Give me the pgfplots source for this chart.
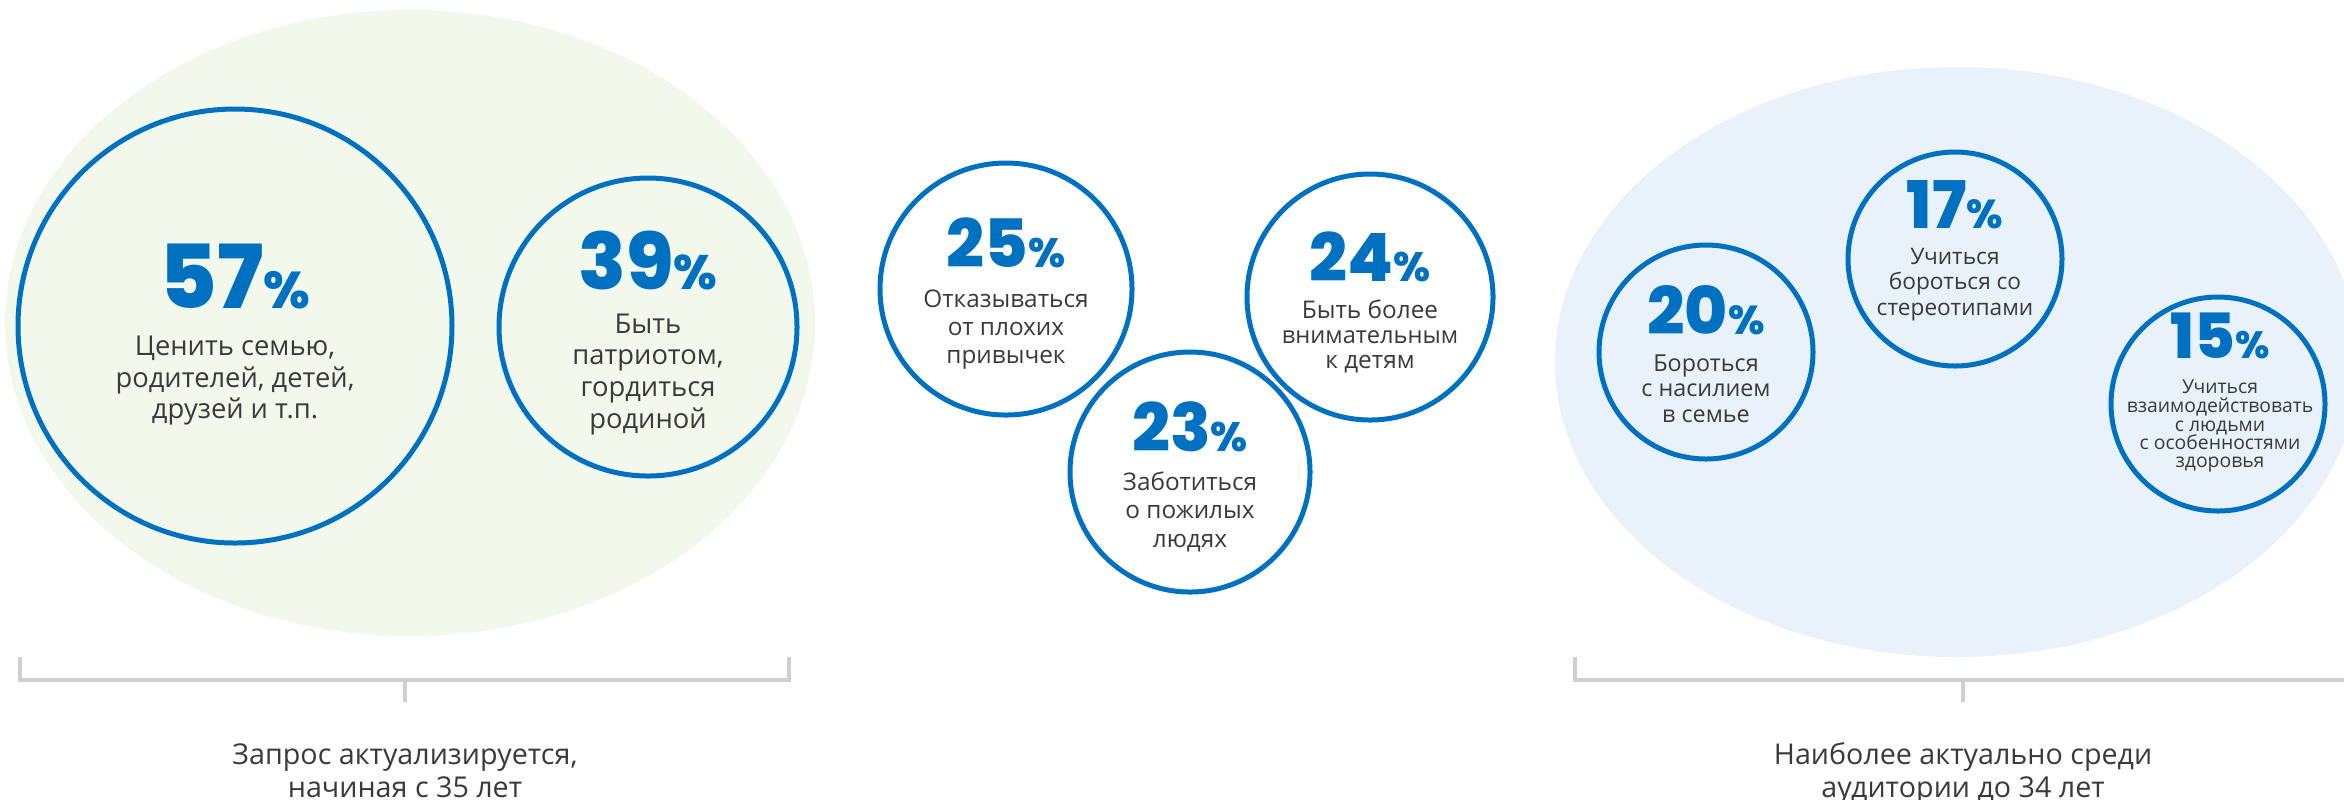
\documentclass[border=0pt]{standalone}
\usepackage{pgfplots}
\pgfplotsset{compat=1.18}
\usepackage{pgfplotstable}
\usepackage{fontspec}
\setmainfont{Open Sans}
\newfontfamily\numfont{Poppins}[BoldFont=*-ExtraBold]
\definecolor{cblue}{HTML}{0070C0}
\definecolor{cgreen}{HTML}{F3F8EC}
\definecolor{clblue}{HTML}{E9F1FA}
\definecolor{cgray}{HTML}{CFCFCF}
\definecolor{ctext}{HTML}{3A3A3A}
\pgfdeclareplotmark{bgell}{\pgfpathellipse{\pgfpointorigin}{\pgfpoint{\ellrx pt}{0pt}}{\pgfpoint{0pt}{\ellry pt}}\pgfusepathqfill}
\pgfdeclareplotmark{ring}{\pgfpathcircle{\pgfpointorigin}{\ringr pt}\pgfusepathqstroke}
\pgfplotstableread{
cx cy rx ry
410 323 405 313
}\greenell
\pgfplotstableread{
cx cy rx ry
1957 362 402 295
}\blueell
\pgfplotstableread{
cx cy r value
235 326 217 57
648 327 149 39
1006 289 126 25
1370 297 123 24
1190 472 120 23
1706 352 107 20
1955 259 107 17
2218 404 107 15
}\circles
\newcommand{\pnum}[5]{\node[anchor=base,text=cblue,inner sep=0pt,font=\numfont\bfseries] at (axis cs:#1,#2) {\fontsize{#3}{#3}\selectfont #5\fontsize{#4}{#4}\selectfont\%};}
\newcommand{\tline}[4]{\node[anchor=base,text=ctext,inner sep=0pt] at (axis cs:#1,#2) {\fontsize{#3}{#3}\selectfont #4};}
\begin{document}
\begin{tikzpicture}
\begin{axis}[x=0.3pt, y=0.3pt, xmin=0, xmax=2344, ymin=0, ymax=799, y dir=reverse,
  hide axis, enlargelimits=false, clip marker paths=true]
\addplot[only marks, mark=bgell, mark options={fill=cgreen, draw=none},
  visualization depends on={0.3*\thisrow{rx}\as\ellrx},
  visualization depends on={0.3*\thisrow{ry}\as\ellry}]
  table[x=cx, y=cy] {\greenell};
\addplot[only marks, mark=bgell, mark options={fill=clblue, draw=none},
  visualization depends on={0.3*\thisrow{rx}\as\ellrx},
  visualization depends on={0.3*\thisrow{ry}\as\ellry}]
  table[x=cx, y=cy] {\blueell};
\addplot[only marks, mark=ring, mark options={draw=cblue, fill=none, line width=1.5pt},
  visualization depends on={0.3*\thisrow{r}\as\ringr}]
  table[x=cx, y=cy] {\circles};
% brackets
\addplot[cgray, line width=1.2pt, mark=none] coordinates {(20,657) (20,680) (789,680) (789,657)};
\addplot[cgray, line width=1.2pt, mark=none] coordinates {(405,680) (405,702)};
\addplot[cgray, line width=1.2pt, mark=none] coordinates {(1575,657) (1575,680) (2344,680)};
\addplot[cgray, line width=1.2pt, mark=none] coordinates {(1963,680) (1963,702)};
% labels
\pnum{235}{308}{26.5}{15.5}{57}
\tline{235}{355}{8.2}{Ценить семью,}
\tline{235}{387}{8.2}{родителей, детей,}
\tline{235}{418}{8.2}{друзей и т.п.}
\pnum{648}{289}{23.5}{14.5}{39}
\tline{648}{333}{8.2}{Быть}
\tline{648}{364}{8.2}{патриотом,}
\tline{648}{396}{8.2}{гордиться}
\tline{648}{428}{8.2}{родиной}
\pnum{1006}{267}{20}{12.3}{25}
\tline{1006}{307}{7.3}{Отказываться}
\tline{1006}{335}{7.3}{от плохих}
\tline{1006}{363}{7.3}{привычек}
\pnum{1370}{281}{20}{12.3}{24}
\tline{1370}{318}{7.3}{Быть более}
\tline{1370}{343}{7.1}{внимательным}
\tline{1370}{368}{7.3}{к детям}
\pnum{1190}{451}{20}{12.3}{23}
\tline{1190}{490}{7.3}{Заботиться}
\tline{1190}{518}{7.3}{о пожилых}
\tline{1190}{547}{7.3}{людях}
\pnum{1706}{334}{19.7}{12.1}{20}
\tline{1706}{371}{7}{Бороться}
\tline{1706}{396}{7}{с насилием}
\tline{1706}{422}{7}{в семье}
\pnum{1955}{228}{19.7}{12.1}{17}
\tline{1955}{264}{6.8}{Учиться}
\tline{1955}{289}{6.8}{бороться со}
\tline{1955}{315}{6.8}{стереотипами}
\pnum{2220}{358}{18.7}{11.4}{15}
\tline{2220}{393}{5.8}{Учиться}
\tline{2220}{412}{5.8}{взаимодействовать}
\tline{2220}{431}{5.8}{с людьми}
\tline{2220}{449}{5.8}{с особенностями}
\tline{2220}{467}{5.8}{здоровья}
\tline{405}{764}{8.6}{Запрос актуализируется,}
\tline{405}{797}{8.6}{начиная с 35 лет}
\tline{1963}{764}{8.6}{Наиболее актуально среди}
\tline{1963}{797}{8.6}{аудитории до 34 лет}
\end{axis}
\pgfresetboundingbox
\path (current axis.south west) rectangle (current axis.north east);
\end{tikzpicture}
\end{document}
